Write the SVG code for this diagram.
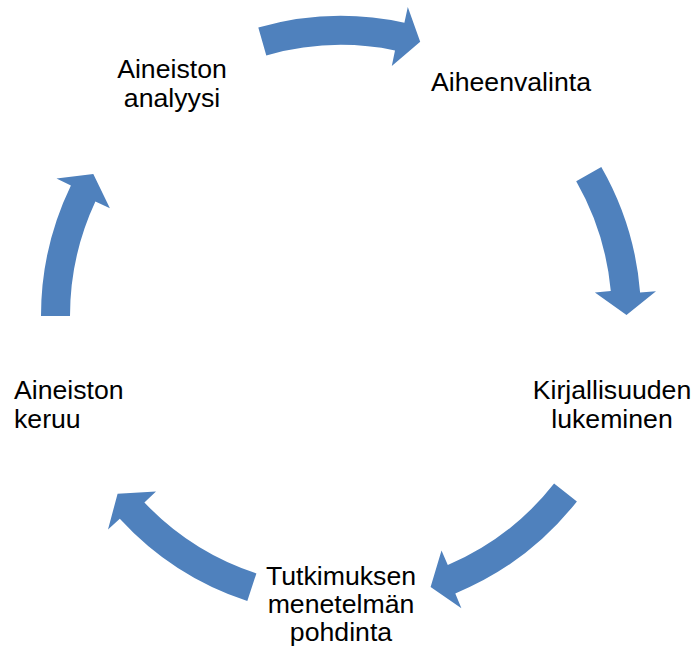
<svg xmlns="http://www.w3.org/2000/svg" width="699" height="652" viewBox="0 0 699 652">
<style>
.arrow{fill:#4F81BD;stroke:none}
.label{font-family:"Liberation Sans",Arial,sans-serif;font-size:26.67px;fill:#000;text-anchor:middle}
.left{text-anchor:start}
</style>
<rect width="699" height="652" fill="#fff"/>
<g id="connectors">
<path class="arrow" d="M258.3,27.6 A300,300 0 0 1 404.4,22.8 L407.8,7.1 L420.2,41.7 L391.8,66.1 L395.0,50.4 A271,271 0 0 0 266.3,55.5 Z"/>
<path class="arrow" d="M601.3,166.9 A300,300 0 0 1 640.1,292.5 L656.0,291.2 L626.5,315.0 L594.9,292.4 L610.8,291.0 A271,271 0 0 0 576.2,181.3 Z"/>
<path class="arrow" d="M576.9,501.4 A300,300 0 0 1 455.3,593.4 L461.4,608.2 L430.6,587.1 L441.5,550.4 L447.8,565.1 A271,271 0 0 0 554.1,483.5 Z"/>
<path class="arrow" d="M247.3,601.0 A300,300 0 0 1 119.8,518.7 L108.0,529.5 L117.6,493.7 L156.0,491.5 L144.4,502.5 A271,271 0 0 0 256.4,573.4 Z"/>
<path class="arrow" d="M41,316 A300,300 0 0 1 70.9,185.4 L56.5,178.5 L93.3,174.1 L109.9,208.2 L95.4,201.5 A271,271 0 0 0 70,316 Z"/>
</g>
<g id="node-aiheenvalinta"><text class="label" x="511" y="91">Aiheenvalinta</text></g>
<g id="node-kirjallisuuden"><text class="label" x="612" y="399">Kirjallisuuden</text><text class="label" x="612" y="428">lukeminen</text></g>
<g id="node-tutkimuksen"><text class="label" x="341" y="585">Tutkimuksen</text><text class="label" x="341" y="613">menetelmän</text><text class="label" x="341" y="641">pohdinta</text></g>
<g id="node-keruu"><text class="label left" x="14" y="399">Aineiston</text><text class="label left" x="14" y="428">keruu</text></g>
<g id="node-analyysi"><text class="label" x="172" y="78">Aineiston</text><text class="label" x="172" y="107">analyysi</text></g>
</svg>
